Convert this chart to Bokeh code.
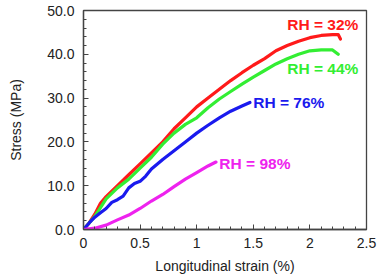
from bokeh.plotting import figure
from bokeh.models import FixedTicker, Range1d
from bokeh.core.properties import value
from bokeh.embed import file_html
from bokeh.resources import INLINE

# Data
strain_32 = [0, 0.05, 0.1, 0.15, 0.2, 0.3, 0.4, 0.5, 0.6, 0.7, 0.8, 0.9, 1.0, 1.1, 1.2, 1.3, 1.4,
             1.5, 1.6, 1.7, 1.8, 1.9, 2.0, 2.1, 2.2, 2.25, 2.27]
stress_32 = [0, 1.5, 3.5, 6.0, 7.5, 10.0, 12.5, 15.0, 17.5, 20.0, 23.0, 25.5, 28.0, 30.0, 32.0, 34.0, 35.8,
             37.5, 39.0, 40.8, 42.0, 43.0, 43.8, 44.3, 44.5, 44.5, 43.5]

strain_44 = [0, 0.05, 0.1, 0.15, 0.2, 0.3, 0.4, 0.5, 0.6, 0.7, 0.8, 0.9, 1.0, 1.1, 1.2, 1.3, 1.4,
             1.5, 1.6, 1.7, 1.8, 1.9, 2.0, 2.1, 2.2, 2.25]
stress_44 = [0, 1.5, 3.0, 5.0, 7.0, 9.5, 11.5, 14.0, 16.5, 19.5, 22.0, 24.0, 25.5, 27.8, 29.8, 31.5, 33.2,
             34.8, 36.3, 37.8, 39.0, 40.0, 40.8, 41.0, 41.0, 40.0]

strain_76 = [0, 0.05, 0.1, 0.15, 0.2, 0.25, 0.3, 0.35, 0.4, 0.45, 0.5, 0.55, 0.6, 0.7, 0.8, 0.9, 1.0,
             1.1, 1.2, 1.3, 1.4, 1.47]
stress_76 = [0, 1.5, 2.8, 3.8, 4.8, 6.2, 6.8, 7.6, 9.5, 10.5, 11.0, 12.2, 13.8, 16.0, 18.0, 20.0, 22.0,
             23.8, 25.5, 27.0, 28.2, 29.0]

strain_98 = [0, 0.1, 0.2, 0.3, 0.4, 0.5, 0.6, 0.7, 0.8, 0.9, 1.0, 1.1, 1.17]
stress_98 = [0, 0.3, 1.0, 2.2, 3.3, 4.8, 6.5, 8.0, 9.8, 11.5, 13.0, 14.5, 15.4]

labels = ["RH = 32%", "RH = 44%", "RH = 76%", "RH = 98%"]
label_x = [1.80, 1.80, 1.50, 1.20]
label_y = [46.8, 36.8, 29.0, 15.0]
colors = ["#ff1a1a", "#33ee33", "#1a1aee", "#ee22ee"]

x_ticks = [0, 0.5, 1, 1.5, 2, 2.5]
x_tick_labels = ["0", "0.5", "1", "1.5", "2", "2.5"]
y_ticks = [0, 10, 20, 30, 40, 50]
y_tick_labels = ["0.0", "10.0", "20.0", "30.0", "40.0", "50.0"]

p = figure(width=378, height=276, output_backend="svg", toolbar_location=None,
           x_range=Range1d(0, 2.5), y_range=Range1d(0, 50),
           min_border_left=83, min_border_right=12, min_border_top=10, min_border_bottom=47)
p.grid.visible = False
p.outline_line_color = "#444444"
p.outline_line_width = 1.3
p.background_fill_color = "white"
p.border_fill_color = "white"

series = [(strain_32, stress_32), (strain_44, stress_44), (strain_76, stress_76), (strain_98, stress_98)]
for (xs, ys), c in zip(series, colors):
    p.line(xs, ys, line_color=c, line_width=3.2, line_join="round", line_cap="round")

for t, x, y, c in zip(labels, label_x, label_y, colors):
    p.text(x=[x], y=[y], text=[t], text_color=c, text_font=value("Liberation Sans"),
           text_font_style="bold", text_font_size="15.5px", text_baseline="middle", text_align="left")

xt = FixedTicker(ticks=x_ticks, minor_ticks=[i / 10 for i in range(26)])
yt = FixedTicker(ticks=y_ticks, minor_ticks=list(range(0, 51, 2)))
p.xaxis.ticker = xt
p.yaxis.ticker = yt
p.xaxis.major_label_overrides = {t: l for t, l in zip(x_ticks, x_tick_labels)}
p.yaxis.major_label_overrides = {t: l for t, l in zip(y_ticks, y_tick_labels)}

for ax in (p.xaxis[0], p.yaxis[0]):
    ax.axis_line_color = "#444444"
    ax.axis_line_width = 1.3
    ax.major_tick_line_color = "#444444"
    ax.minor_tick_line_color = "#444444"
    ax.major_tick_in = 5
    ax.major_tick_out = 0
    ax.minor_tick_in = 3
    ax.minor_tick_out = 0
    ax.major_label_text_font = "Liberation Sans"
    ax.major_label_text_font_size = "14px"
    ax.major_label_text_color = "#222222"
    ax.axis_label_text_font = "Liberation Sans"
    ax.axis_label_text_font_size = "14px"
    ax.axis_label_text_font_style = "normal"
    ax.axis_label_text_color = "#222222"

p.xaxis.axis_label = "Longitudinal strain (%)"
p.yaxis.axis_label = "Stress (MPa)"
p.xaxis.major_label_standoff = 8
p.yaxis.major_label_standoff = 9
p.xaxis.axis_label_standoff = 7
p.yaxis.axis_label_standoff = 20

open("out.html", "w").write(file_html(p, INLINE))
